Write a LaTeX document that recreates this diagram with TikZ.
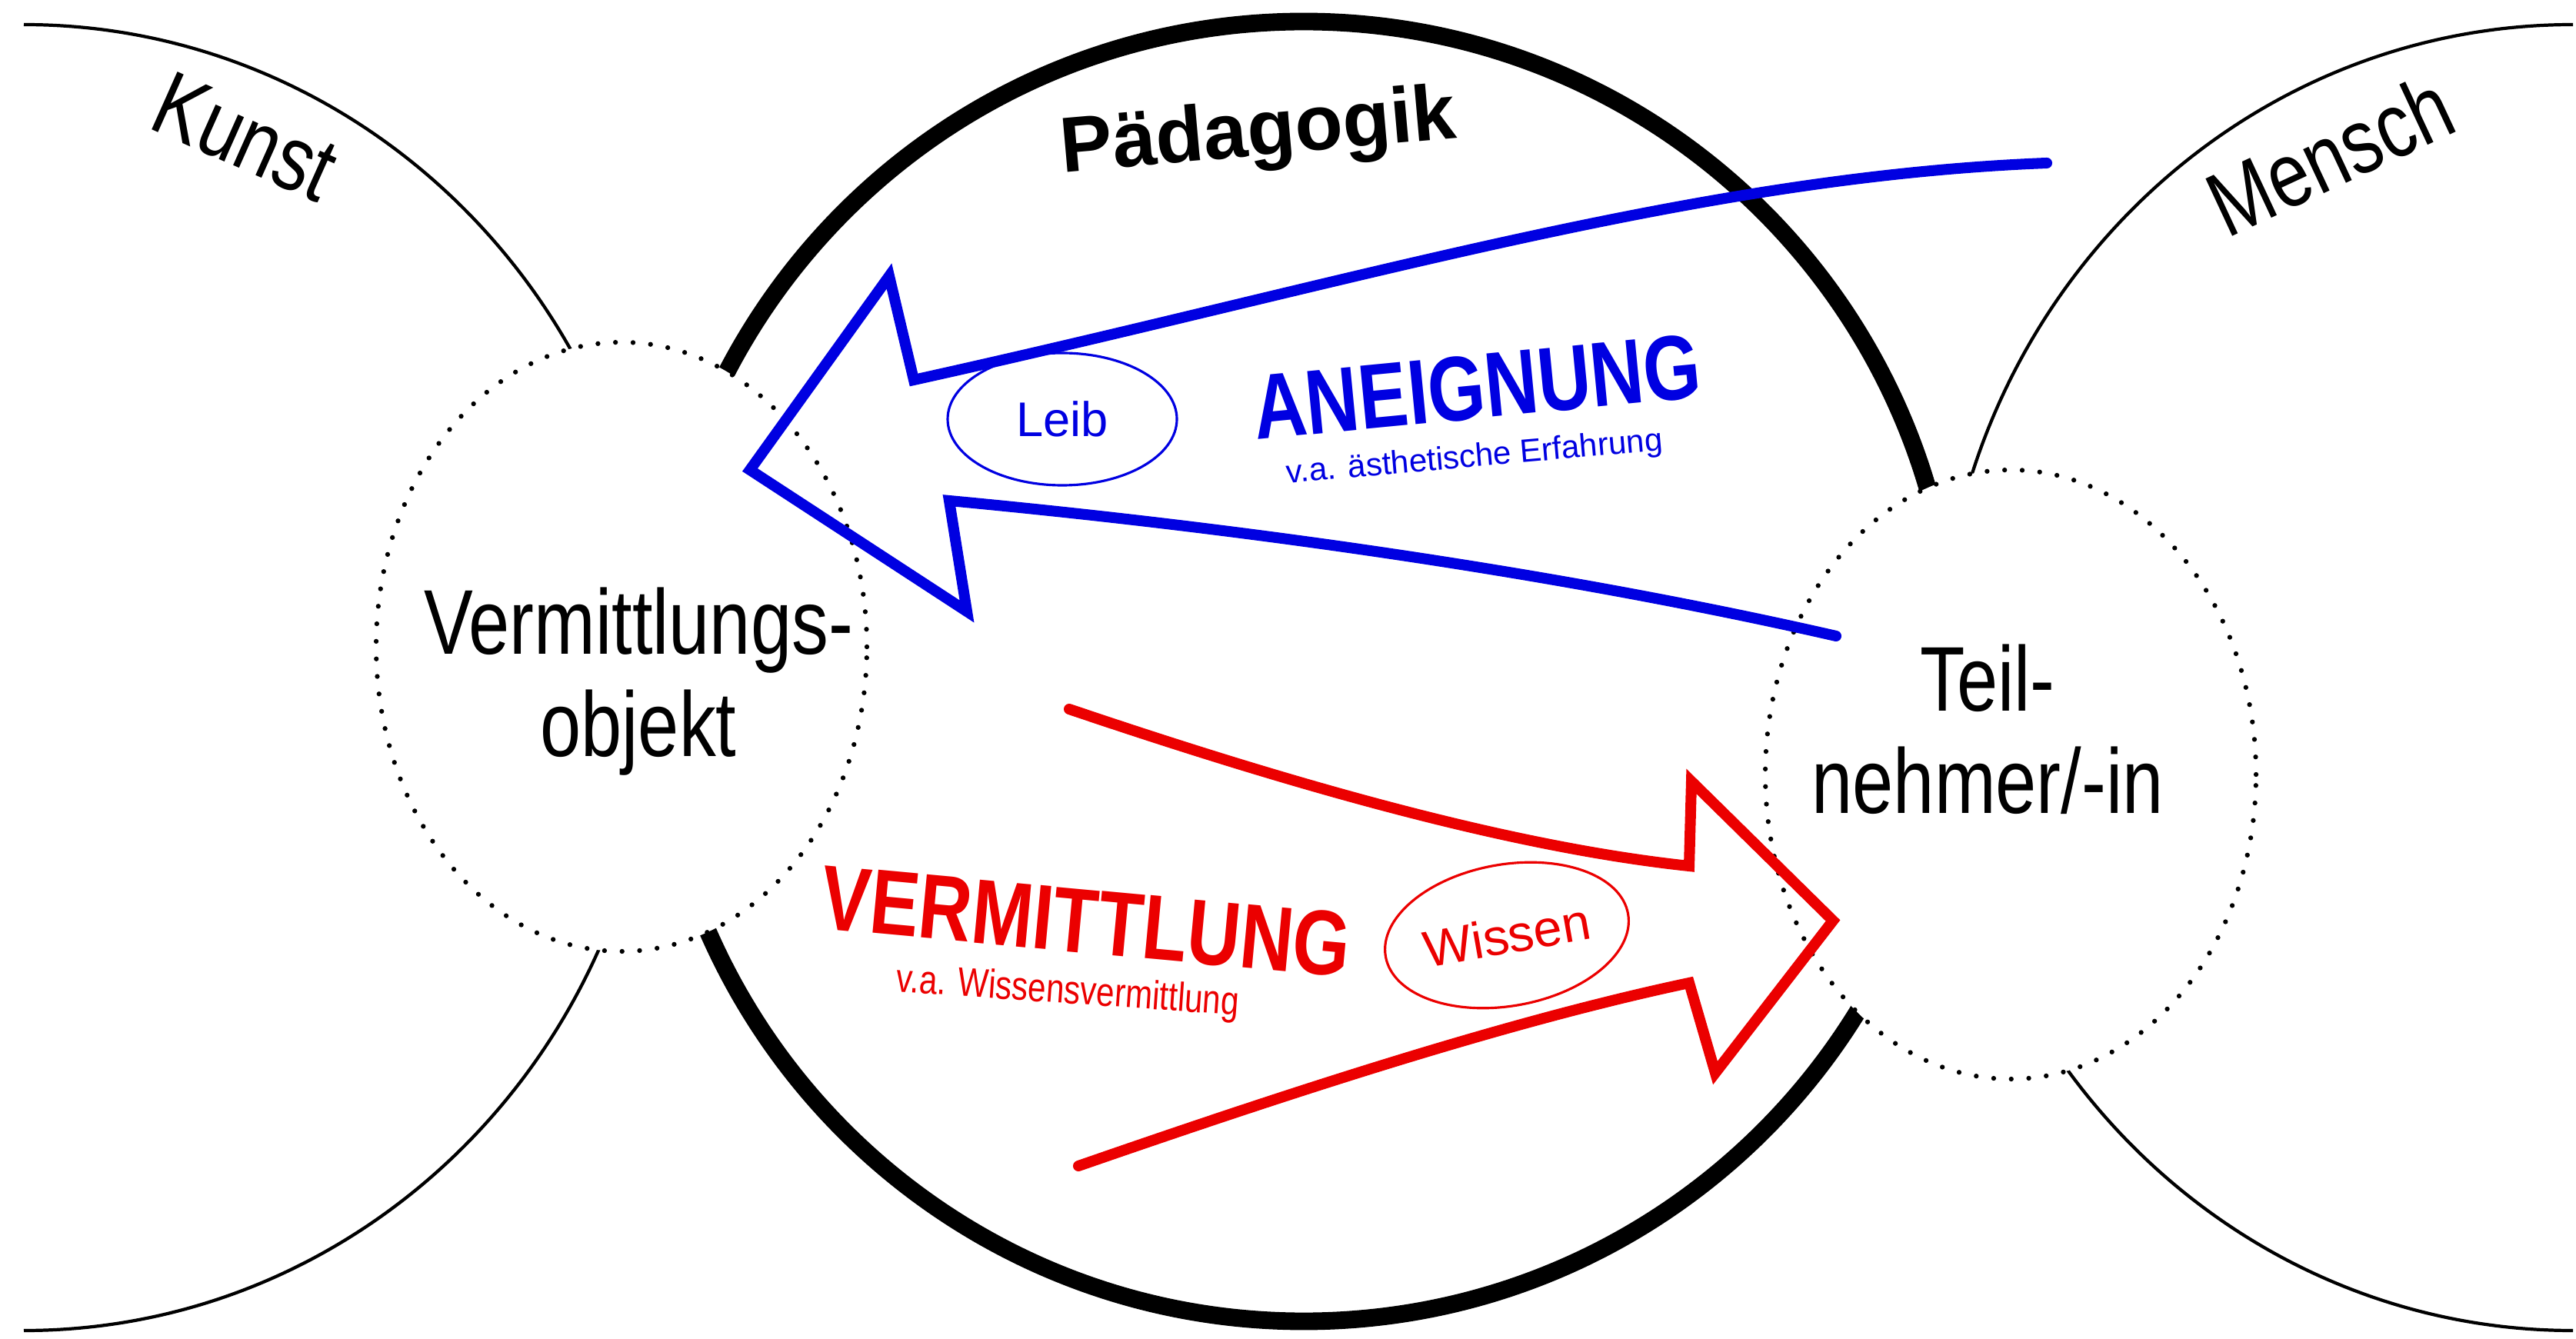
\documentclass[tikz,border=0pt]{standalone}
\usepackage{fontspec}
\setmainfont{Liberation Sans}
\newfontfamily\schmal{Liberation Sans}[FakeStretch=0.8]
\usetikzlibrary{shapes.geometric}

\definecolor{blau}{RGB}{0,0,225}
\definecolor{rot}{RGB}{235,0,0}

\tikzset{
	Bereich/.style={black, line width=1.2pt},
	Punktkreis/.style={ellipse, draw=black, fill=white, line width=1.8pt,
		dash pattern=on 0pt off 6.5pt, line cap=round,
		minimum width=6.38cm, minimum height=7.92cm, inner sep=0pt},
	Gross/.style={font=\schmal\fontsize{34pt}{37.8pt}\selectfont, align=center, inner sep=0pt},
	Titel/.style={font=\schmal\bfseries\fontsize{34pt}{38pt}\selectfont, inner sep=0pt},
	Pfeil/.style={line width=4pt, line cap=round, line join=miter},
	Stichwort/.style={ellipse, draw, line width=0.9pt, inner sep=0pt}
}

\begin{document}
\begin{tikzpicture}
\useasboundingbox (0,0) rectangle (33.49,17.40);

%Kunst und Mensch
\draw[Bereich] (0.31,17.08) arc[start angle=90, end angle=-90, x radius=8.22, y radius=8.49];
\draw[Bereich] (33.45,17.08) arc[start angle=90, end angle=270, x radius=8.22, y radius=8.49];

%Paedagogik
\draw[black, line width=6.5pt] (16.95,8.67) circle (8.45);

\node[Punktkreis] (objekt) at (8.08,8.99) {};
\node[Punktkreis] (teilnehmer) at (26.14,7.33) {};

%Aneignung
\draw[Pfeil, blau] (26.61,15.28) .. controls (22.0,15.1) and (17.5,13.7) .. (11.88,12.46)
	-- (11.56,13.81) -- (9.75,11.29) -- (12.57,9.45) -- (12.34,10.89)
	.. controls (16.5,10.50) and (20.5,9.90) .. (23.87,9.13);

%Vermittlung
\draw[Pfeil, rot] (13.90,8.18) .. controls (16.5,7.30) and (19.5,6.40) .. (21.96,6.14)
	-- (21.99,7.24) -- (23.83,5.43) -- (22.30,3.45) -- (21.96,4.62)
	.. controls (19.5,4.10) and (16.5,3.10) .. (14.02,2.24);

\node[Stichwort, draw=blau, text=blau, font=\fontsize{18pt}{20pt}\selectfont,
	minimum width=2.98cm, minimum height=1.72cm] (leib) at (13.81,11.95) {Leib};
\node[Stichwort, draw=rot, text=rot, font=\fontsize{19pt}{21pt}\selectfont,
	minimum width=3.2cm, minimum height=1.84cm, rotate=10] (wissen) at (19.59,5.24) {Wissen};

\node[Gross, rotate=-24] (kunst) at (3.19,15.62) {Kunst};
\node[Gross, rotate=25] (mensch) at (30.29,15.39) {Mensch};
\node[font=\bfseries\fontsize{29pt}{32pt}\selectfont, inner sep=0pt, rotate=5] (paed) at (16.36,15.64) {Pädagogik};

\node[Gross] (objekttext) at (8.30,8.535) {Vermittlungs-\\objekt};
\node[Gross] (teilnehmertext) at (25.84,7.915) {Teil-\\nehmer/-in};

\node[Titel, text=blau, rotate=5.5] (aneignung) at (19.20,12.37) {ANEIGNUNG};
\node[text=blau, font=\fontsize{12pt}{14pt}\selectfont, inner sep=0pt, rotate=5] (aneignungsub) at (19.17,11.44) {v.a. ästhetische Erfahrung};
\node[Titel, text=rot, rotate=-5.3] (vermittlung) at (14.12,5.42) {VERMITTLUNG};
\node[text=rot, font=\schmal\fontsize{15pt}{17pt}\selectfont, inner sep=0pt, rotate=-4] (vermittlungsub) at (13.88,4.49) {v.a. Wissensvermittlung};
\end{tikzpicture}
\end{document}
